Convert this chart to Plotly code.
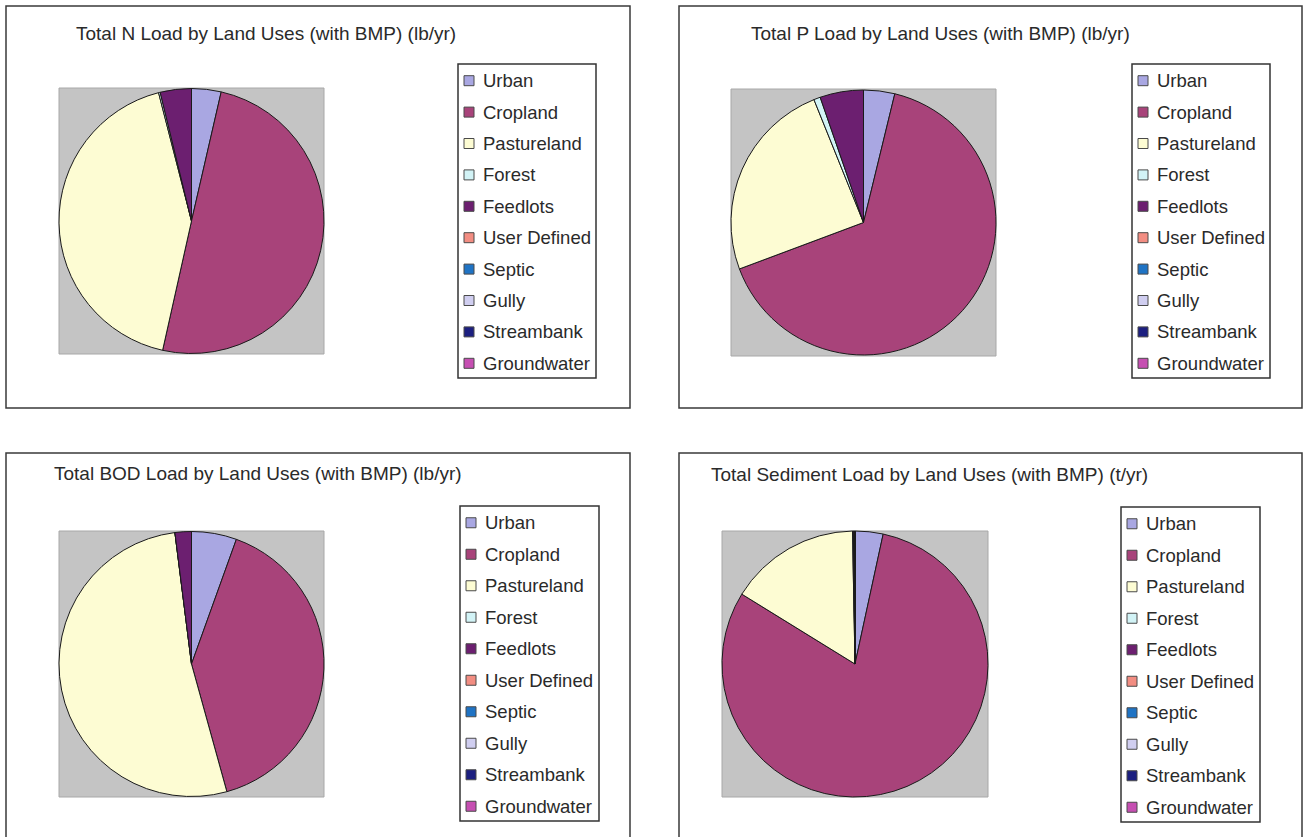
import plotly.graph_objects as go

W, H = 1308, 837

# Land-use categories and slice colours (Excel 2003 style palette)
categories = ["Urban", "Cropland", "Pastureland", "Forest", "Feedlots",
              "User Defined", "Septic", "Gully", "Streambank", "Groundwater"]
colors = ["#a9a7e2", "#a8437a", "#fdfcd3", "#d2f3f6", "#6c1f70",
          "#f28d82", "#1f73c4", "#d0cef0", "#1c1f80", "#c64fb2"]

# Load shares by land use (percent of total)
n_load = [3.6, 49.9, 42.5, 0.2, 3.8, 0, 0, 0, 0, 0]
p_load = [3.8, 65.5, 24.6, 0.8, 5.3, 0, 0, 0, 0, 0]
bod_load = [5.5, 40.2, 52.3, 0.0, 2.0, 0, 0, 0, 0, 0]
sediment_load = [3.4, 80.4, 15.9, 0.1, 0.2, 0, 0, 0, 0, 0]

titles = ["Total N Load by Land Uses (with BMP) (lb/yr)",
          "Total P Load by Land Uses (with BMP) (lb/yr)",
          "Total BOD Load by Land Uses (with BMP) (lb/yr)",
          "Total Sediment Load by Land Uses (with BMP) (t/yr)"]

# Panel geometry in pixels: frame, title anchor, plot area, legend box
panels = [
    dict(values=n_load, frame=(6, 6, 630, 408), title=(74, 33),
         plot=(59, 88, 324, 354), legend=(458, 64, 596, 378)),
    dict(values=p_load, frame=(679, 6, 1302, 408), title=(749, 33),
         plot=(731, 89, 996, 356), legend=(1132, 64, 1270, 378)),
    dict(values=bod_load, frame=(6, 453, 630, 845), title=(52, 473),
         plot=(59, 531, 324, 797), legend=(460, 506, 599, 821)),
    dict(values=sediment_load, frame=(679, 453, 1302, 845), title=(709, 475),
         plot=(722, 531, 988, 797), legend=(1121, 507, 1260, 822)),
]

FONT = "Liberation Sans, Arial, sans-serif"


def px(x):
    return x / W


def py(y):
    return 1 - y / H


fig = go.Figure()
shapes = []
annotations = []

for i, p in enumerate(panels):
    x0, y0, x1, y1 = p["frame"]
    shapes.append(dict(type="rect", xref="paper", yref="paper",
                       x0=px(x0), x1=px(x1), y0=py(y1), y1=py(y0),
                       line=dict(color="#3a3a3a", width=1.5),
                       fillcolor="white", layer="below"))
    gx0, gy0, gx1, gy1 = p["plot"]
    shapes.append(dict(type="rect", xref="paper", yref="paper",
                       x0=px(gx0), x1=px(gx1), y0=py(gy1), y1=py(gy0),
                       line=dict(color="#a8a8a8", width=1),
                       fillcolor="#c4c4c4", layer="below"))

    fig.add_trace(go.Pie(
        labels=categories, values=p["values"], sort=False,
        direction="clockwise", rotation=0,
        marker=dict(colors=colors, line=dict(color="#1a1a1a", width=1)),
        textinfo="none", hoverinfo="label+percent", showlegend=False,
        domain=dict(x=[px(gx0), px(gx1)], y=[py(gy1), py(gy0)]),
        name=titles[i],
    ))

    tx, ty = p["title"]
    annotations.append(dict(text=titles[i], xref="paper", yref="paper",
                            x=px(tx), y=py(ty), xanchor="left", yanchor="middle",
                            showarrow=False,
                            font=dict(family=FONT, size=19, color="#2a2a2a")))

    # Legend box with one swatch and label per category
    lx0, ly0, lx1, ly1 = p["legend"]
    shapes.append(dict(type="rect", xref="paper", yref="paper",
                       x0=px(lx0), x1=px(lx1), y0=py(ly1), y1=py(ly0),
                       line=dict(color="#333333", width=1.5),
                       fillcolor="white"))
    step = (ly1 - ly0) / len(categories)
    for k, (cat, col) in enumerate(zip(categories, colors)):
        cy = ly0 + step * (k + 0.5) + 1
        sx = lx0 + 6
        shapes.append(dict(type="rect", xref="paper", yref="paper",
                           x0=px(sx), x1=px(sx + 10), y0=py(cy + 5), y1=py(cy - 5),
                           line=dict(color="#4a4a4a", width=1), fillcolor=col))
        annotations.append(dict(text=cat, xref="paper", yref="paper",
                                x=px(lx0 + 23), y=py(cy), xanchor="left",
                                yanchor="middle", showarrow=False,
                                font=dict(family=FONT, size=18.5, color="#2a2a2a")))

fig.update_layout(
    width=W, height=H,
    margin=dict(l=0, r=0, t=0, b=0),
    paper_bgcolor="white", plot_bgcolor="white",
    shapes=shapes, annotations=annotations,
    showlegend=False,
)

fig.write_html("out.html")
